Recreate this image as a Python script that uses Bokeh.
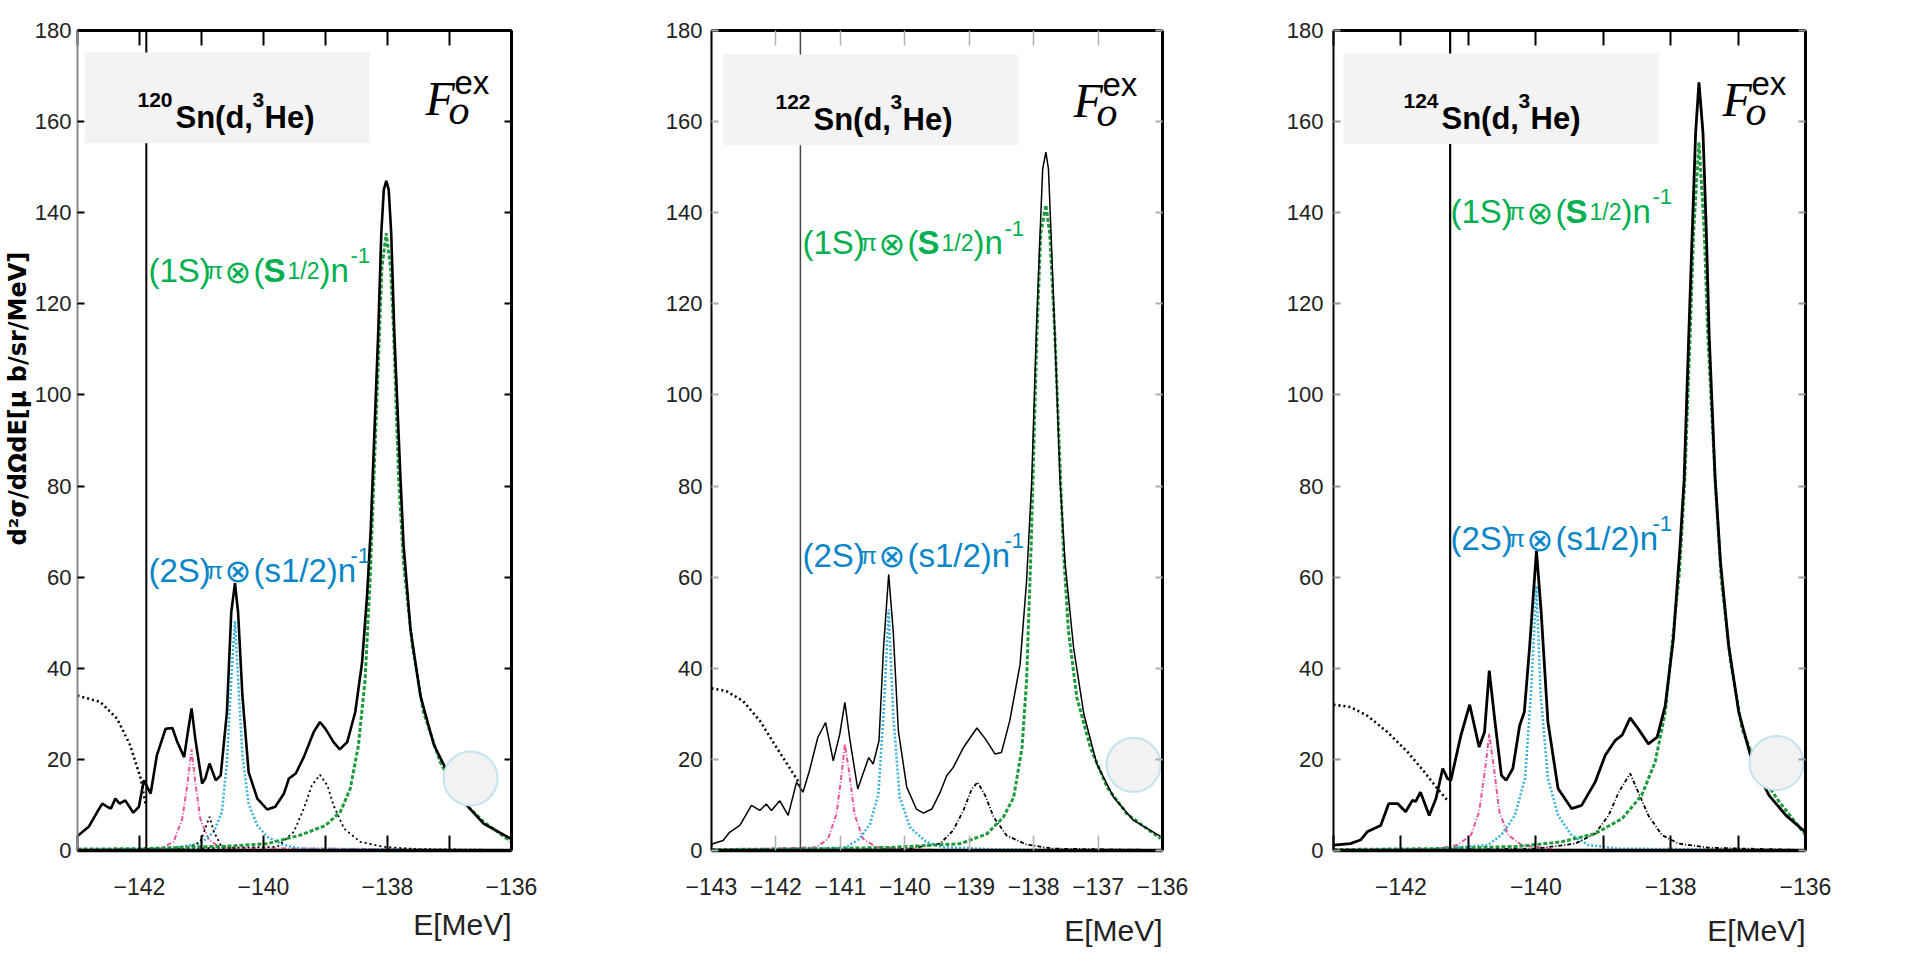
import math
from bokeh.plotting import figure
from bokeh.layouts import row
from bokeh.models import Range1d, FixedTicker, LinearAxis, Span, BoxAnnotation, Label, Title
from bokeh.embed import file_html
from bokeh.resources import INLINE

# ---------------- data ----------------
E_MIN, E_MAX = -143, -136
V_MIN, V_MAX = 0, 180
y_ticks = [0, 20, 40, 60, 80, 100, 120, 140, 160, 180]
targets = ["120", "122", "124"]
thresholds = [-141.89, -141.62, -141.27]
x_title = "E[MeV]"
y_title = "d²σ/dΩdE[μ b/sr/MeV]"

# 120Sn
sn120_total_E = [-143.00, -142.82, -142.68, -142.60, -142.52, -142.46, -142.39, -142.32, -142.23, -142.10,
                 -142.01, -141.93, -141.82, -141.72, -141.58, -141.47, -141.39, -141.28, -141.22, -141.16,
                 -141.10, -140.99, -140.94, -140.87, -140.77, -140.69, -140.59, -140.52, -140.46, -140.41,
                 -140.34, -140.24, -140.10, -139.94, -139.81, -139.67, -139.59, -139.48, -139.35, -139.19,
                 -139.09, -139.00, -138.87, -138.77, -138.65, -138.52, -138.41, -138.33, -138.27, -138.24,
                 -138.15, -138.10, -138.06, -138.02, -137.98, -137.94, -137.89, -137.79, -137.74, -137.63,
                 -137.47, -137.25, -136.98, -136.72, -136.45, -136.00]
sn120_total_v = [3.2, 5.2, 8.5, 10.3, 9.6, 9.2, 11.4, 10.3, 11.0, 8.3,
                 9.6, 15.4, 12.5, 20.9, 26.7, 26.9, 23.8, 20.5, 26.0, 31.2,
                 24.5, 14.7, 15.8, 19.1, 15.4, 16.5, 30.4, 52.3, 58.7, 52.3,
                 34.0, 17.2, 11.4, 9.0, 9.6, 12.5, 15.8, 16.9, 20.5, 26.0,
                 28.2, 26.7, 23.8, 22.2, 23.8, 30.4, 41.3, 55.9, 70.5, 81.5,
                 113.6, 135.5, 145.0, 147.0, 145.0, 135.5, 113.6, 81.5, 66.9, 48.6,
                 34.0, 23.1, 15.8, 9.9, 5.9, 2.5]
sn120_1s_E = [-143.0, -142.0, -141.0, -140.5, -139.94, -139.40, -139.00, -138.76, -138.60, -138.47,
              -138.36, -138.28, -138.22, -138.13, -138.09, -138.02, -137.95, -137.90, -137.82, -137.74,
              -137.60, -137.42, -137.15, -136.83, -136.45, -136.0]
sn120_1s_v = [0.3, 0.4, 0.8, 1.0, 1.5, 3.4, 5.5, 8.5, 13.6, 23.0,
              37.7, 59.6, 81.5, 113.6, 128.0, 135.5, 128.0, 113.6, 81.5, 63.0,
              45.0, 30.4, 19.4, 11.4, 6.3, 1.9]
sn120_2s_E = [-143.0, -141.55, -141.02, -140.80, -140.67, -140.59, -140.52, -140.46, -140.41, -140.34,
              -140.24, -140.10, -139.94, -139.67, -139.40, -136.0]
sn120_2s_v = [0.1, 0.4, 1.5, 4.1, 8.5, 19.4, 37.7, 50.4, 37.7, 20.9,
              10.3, 5.5, 3.0, 1.2, 0.4, 0.05]
sn120_p_E = [-143.0, -141.66, -141.45, -141.31, -141.23, -141.16, -141.10, -141.02, -140.88, -140.69, -136.0]
sn120_p_v = [0.05, 0.4, 1.9, 7.0, 14.3, 22.2, 15.0, 7.0, 2.3, 0.6, 0.0]
sn120_k1_E = [-141.3, -141.02, -140.94, -140.87, -140.80, -140.69, -140.4]
sn120_k1_v = [0.0, 1.9, 4.8, 7.4, 4.1, 1.2, 0.0]
sn120_k2_E = [-143.0, -139.78, -139.51, -139.35, -139.22, -139.09, -138.97, -138.87, -138.70, -138.44,
              -138.06, -137.52, -136.0]
sn120_k2_v = [0.0, 0.8, 4.1, 9.2, 14.3, 16.6, 14.3, 9.9, 4.8, 1.9,
              0.8, 0.3, 0.1]
sn120_bg_E = [-143.0, -142.63, -142.36, -142.15, -141.98, -141.90]
sn120_bg_v = [34.0, 32.6, 28.9, 23.1, 15.8, 10.0]

# 122Sn
sn122_total_E = [-143.00, -142.98, -142.82, -142.72, -142.56, -142.38, -142.25, -142.15, -142.07, -141.94,
                 -141.81, -141.68, -141.58, -141.48, -141.35, -141.23, -141.11, -141.01, -140.93, -140.85,
                 -140.73, -140.65, -140.56, -140.49, -140.40, -140.33, -140.25, -140.18, -140.10, -139.97,
                 -139.82, -139.71, -139.58, -139.45, -139.35, -139.25, -139.09, -138.88, -138.75, -138.60,
                 -138.50, -138.37, -138.21, -138.11, -138.03, -137.96, -137.90, -137.86, -137.81, -137.77,
                 -137.73, -137.67, -137.59, -137.51, -137.38, -137.22, -137.02, -136.76, -136.45, -136.03]
sn122_total_v = [1.0, 1.5, 2.2, 4.0, 5.5, 9.9, 8.8, 10.2, 8.8, 10.9,
                 7.7, 15.0, 12.8, 17.5, 24.8, 28.1, 19.7, 25.5, 32.5, 24.1,
                 13.5, 16.8, 20.4, 19.0, 24.1, 44.5, 60.6, 48.2, 26.3, 13.9,
                 9.1, 8.2, 9.1, 12.8, 16.4, 18.2, 22.6, 26.9, 24.5, 21.2,
                 21.5, 28.5, 40.9, 59.1, 81.0, 113.0, 135.5, 149.6, 153.3, 149.6,
                 135.5, 113.0, 81.0, 62.8, 44.5, 29.9, 19.0, 11.7, 6.6, 3.1]
sn122_1s_E = [-143.0, -141.22, -140.18, -139.14, -138.73, -138.47, -138.31, -138.18, -138.11, -138.04,
              -137.95, -137.89, -137.81, -137.75, -137.67, -137.54, -137.46, -137.33, -137.12, -136.86,
              -136.55, -136.03]
sn122_1s_v = [0.2, 0.4, 0.7, 1.5, 3.6, 7.3, 11.7, 22.6, 37.2, 66.4,
              113.0, 135.5, 141.7, 135.5, 113.0, 66.4, 48.2, 33.6, 22.6, 13.9,
              8.0, 2.6]
sn122_2s_E = [-143.0, -141.5, -140.91, -140.70, -140.54, -140.41, -140.33, -140.25, -140.18, -140.08,
              -139.92, -139.66, -139.40, -138.5, -136.0]
sn122_2s_v = [0.1, 0.3, 0.7, 2.6, 5.8, 12.4, 29.9, 52.9, 29.9, 11.7,
              5.1, 1.8, 0.7, 0.2, 0.05]
sn122_p_E = [-143.0, -141.37, -141.19, -141.06, -140.98, -140.93, -140.86, -140.78, -140.65, -140.44, -139.5, -136.0]
sn122_p_v = [0.05, 0.7, 2.6, 8.0, 16.8, 23.4, 16.8, 8.0, 2.6, 0.7, 0.1, 0.0]
sn122_k2_E = [-143.0, -140.0, -139.45, -139.25, -139.09, -138.96, -138.87, -138.75, -138.62, -138.42,
              -138.11, -137.69, -136.0]
sn122_k2_v = [0.0, 0.3, 1.5, 4.4, 8.8, 13.5, 15.0, 12.0, 7.3, 3.3,
              1.3, 0.4, 0.1]
sn122_bg_E = [-143.0, -142.77, -142.51, -142.25, -141.99, -141.79, -141.62]
sn122_bg_v = [35.6, 35.0, 32.8, 28.5, 22.6, 18.2, 14.4]

# 124Sn
sn124_total_E = [-143.00, -142.75, -142.60, -142.50, -142.30, -142.18, -142.05, -141.93, -141.83, -141.78,
                 -141.71, -141.58, -141.48, -141.38, -141.31, -141.26, -141.11, -140.98, -140.84, -140.76,
                 -140.69, -140.61, -140.51, -140.44, -140.34, -140.24, -140.17, -140.09, -139.99, -139.92,
                 -139.82, -139.67, -139.47, -139.32, -139.12, -138.97, -138.82, -138.72, -138.60, -138.48,
                 -138.33, -138.20, -138.08, -137.96, -137.86, -137.80, -137.73, -137.68, -137.63, -137.58,
                 -137.52, -137.47, -137.43, -137.34, -137.26, -137.14, -136.99, -136.79, -136.54, -136.29,
                 -136.00]
sn124_total_v = [1.2, 1.5, 2.3, 4.1, 5.5, 10.3, 10.3, 8.5, 11.0, 10.8,
                 12.8, 7.7, 11.4, 18.0, 15.8, 15.4, 25.3, 32.0, 22.7, 26.0,
                 39.5, 28.9, 16.5, 15.4, 18.0, 27.4, 30.4, 45.0, 65.8, 52.3,
                 28.2, 13.6, 9.2, 9.9, 15.0, 20.9, 24.2, 25.3, 29.1, 26.7,
                 23.4, 24.9, 31.8, 46.4, 66.9, 81.5, 113.6, 135.5, 157.4, 168.6,
                 157.4, 135.5, 113.6, 81.5, 63.2, 45.0, 30.4, 19.4, 12.1, 7.7,
                 4.0]
sn124_1s_E = [-143.0, -141.5, -140.26, -139.62, -139.12, -138.72, -138.43, -138.23, -138.08, -137.98,
              -137.87, -137.79, -137.71, -137.66, -137.58, -137.50, -137.45, -137.34, -137.25, -137.11,
              -136.94, -136.69, -136.39, -136.0]
sn124_1s_v = [0.2, 0.4, 0.9, 1.9, 3.7, 7.0, 12.1, 19.4, 30.4, 45.0,
              61.0, 81.5, 113.6, 135.5, 155.5, 135.5, 113.6, 81.5, 59.6, 41.3,
              26.7, 17.2, 10.7, 3.4]
sn124_2s_E = [-143.0, -141.5, -140.71, -140.51, -140.31, -140.16, -140.07, -139.99, -139.93, -139.82,
              -139.67, -139.47, -139.22, -138.77, -136.0]
sn124_2s_v = [0.1, 0.3, 1.2, 3.4, 7.7, 15.8, 34.7, 58.1, 34.7, 15.8,
              7.7, 3.4, 1.2, 0.4, 0.05]
sn124_p_E = [-143.0, -141.5, -141.16, -140.96, -140.84, -140.75, -140.69, -140.62, -140.54, -140.41,
             -140.21, -139.7, -136.0]
sn124_p_v = [0.05, 0.3, 1.2, 3.4, 8.5, 18.0, 25.6, 18.0, 8.5, 3.4,
             1.2, 0.2, 0.0]
sn124_k2_E = [-143.0, -140.0, -139.42, -139.12, -138.92, -138.77, -138.60, -138.48, -138.33, -138.13,
              -137.88, -137.43, -136.0]
sn124_k2_v = [0.0, 0.4, 1.5, 3.7, 7.7, 12.8, 16.9, 12.8, 7.7, 3.4,
              1.5, 0.6, 0.1]
sn124_bg_E = [-143.0, -142.75, -142.50, -142.20, -141.90, -141.65, -141.46, -141.31]
sn124_bg_v = [32.0, 31.5, 29.6, 26.0, 21.6, 17.2, 13.6, 11.0]

deco_E = [-136.66, -136.45, -136.43]
deco_v = [15.8, 18.8, 19.2]

# ---------------- layout / style ----------------
TICK_FONT = "Liberation Sans"
SANS = "Liberation Sans"
GREEN_TXT = "#00b050"
BLUE_TXT = "#0a86c8"
GREEN = "#1d9a3c"
CYAN = "#3ab2dc"
PINK = "#e8559c"

panels = [
    dict(x0=0, w=620, fx0=77, fx1=511, fy0=30, fy1=852,
         data=dict(total=(sn120_total_E, sn120_total_v), s1=(sn120_1s_E, sn120_1s_v),
                   s2=(sn120_2s_E, sn120_2s_v), p=(sn120_p_E, sn120_p_v),
                   k=[(sn120_k1_E, sn120_k1_v), (sn120_k2_E, sn120_k2_v)], bg=(sn120_bg_E, sn120_bg_v)),
         all_labels=False, tick_col="black", ytick_col="black", total_w=2.6, k_dash="2 3",
         vline_w=2, vline_col="black", left_col="#888888", ystand=6,
         box=(84, 369), title_x=137, F_x=425, lab_x=148, g_base=271, b_base=571, ylab=True,
         xl_standoff=16),
    dict(x0=620, w=640, fx0=711, fx1=1162, fy0=28, fy1=850,
         data=dict(total=(sn122_total_E, sn122_total_v), s1=(sn122_1s_E, sn122_1s_v),
                   s2=(sn122_2s_E, sn122_2s_v), p=(sn122_p_E, sn122_p_v),
                   k=[(sn122_k2_E, sn122_k2_v)], bg=(sn122_bg_E, sn122_bg_v)),
         all_labels=True, tick_col="#b0b0b0", ytick_col="#b0b0b0", total_w=1.5, k_dash="4 2 1 2",
         vline_w=1.5, vline_col="#444444", left_col="black", ystand=9,
         box=(723, 1018), title_x=775, F_x=1073, lab_x=802, g_base=241, b_base=554, ylab=False,
         xl_standoff=28),
    dict(x0=1260, w=665, fx0=1333, fx1=1805, fy0=29, fy1=852,
         data=dict(total=(sn124_total_E, sn124_total_v), s1=(sn124_1s_E, sn124_1s_v),
                   s2=(sn124_2s_E, sn124_2s_v), p=(sn124_p_E, sn124_p_v),
                   k=[(sn124_k2_E, sn124_k2_v)], bg=(sn124_bg_E, sn124_bg_v)),
         all_labels=False, tick_col="black", ytick_col="#999999", total_w=2.8, k_dash="4 2 1 2",
         vline_w=2.2, vline_col="black", left_col="black", ystand=10,
         box=(1343, 1658), title_x=1403, F_x=1722, lab_x=1450, g_base=211, b_base=539, ylab=False,
         xl_standoff=28),
]


def px2x(c, px):
    return E_MIN + (px - c["fx0"]) / (c["fx1"] - c["fx0"]) * (E_MAX - E_MIN)


def py2y(c, py):
    return V_MIN + (c["fy1"] - py) / (c["fy1"] - c["fy0"]) * (V_MAX - V_MIN)


def add_text(p, c, px, py, text, size, color="black", font=SANS, style="normal",
             align="left", baseline="alphabetic", angle=0.0):
    p.add_layout(Label(x=px2x(c, px), y=py2y(c, py), x_units="data", y_units="data",
                       text=text, text_font=font, text_font_size=f"{size}px",
                       text_font_style=style, text_color=color, text_align=align,
                       text_baseline=baseline, angle=angle))


def hide_labels(ax):
    ax.major_label_text_font_size = "1px"
    ax.major_label_text_color = None
    ax.major_label_text_alpha = 0
    ax.major_label_standoff = 0


figs = []
for i, c in enumerate(panels):
    p = figure(width=c["w"], height=964,
               x_range=Range1d(E_MIN, E_MAX), y_range=Range1d(V_MIN, V_MAX),
               output_backend="svg", toolbar_location=None,
               min_border_left=c["fx0"] - c["x0"], min_border_right=c["x0"] + c["w"] - c["fx1"],
               min_border_top=c["fy0"], min_border_bottom=964 - c["fy1"])
    p.grid.visible = False
    p.outline_line_color = None
    p.background_fill_color = "white"
    p.border_fill_color = "white"

    if c["all_labels"]:
        xt = FixedTicker(ticks=list(range(E_MIN, E_MAX + 1)), minor_ticks=[])
    else:
        xt = FixedTicker(ticks=[-142, -140, -138, -136], minor_ticks=[-143, -141, -139, -137])
    yt = FixedTicker(ticks=y_ticks, minor_ticks=[])

    top = LinearAxis(ticker=xt)
    right = LinearAxis(ticker=yt)
    p.add_layout(top, "above")
    p.add_layout(right, "right")

    for ax in p.xaxis:
        ax.ticker = xt
        ax.major_tick_in = 15
        ax.major_tick_out = 0
        ax.minor_tick_in = 15
        ax.minor_tick_out = 0
        ax.major_tick_line_color = c["tick_col"]
        ax.minor_tick_line_color = c["tick_col"]
        ax.major_tick_line_width = 2 if c["tick_col"] == "black" else 1.5
        ax.minor_tick_line_width = ax.major_tick_line_width
        ax.axis_line_color = "black"
        ax.major_label_text_font = TICK_FONT
        ax.major_label_text_font_size = "23px"
        ax.major_label_text_color = "#222222"
        ax.major_label_standoff = 27
    hide_labels(top)
    top.axis_line_width = 3
    p.below[0].axis_line_width = 3.5

    for ax in p.yaxis:
        ax.ticker = yt
        ax.major_tick_in = 7
        ax.major_tick_out = 0
        ax.minor_tick_in = 0
        ax.minor_tick_out = 0
        ax.major_tick_line_color = c["ytick_col"]
        ax.major_tick_line_width = 2
        ax.major_label_text_font = TICK_FONT
        ax.major_label_text_font_size = "22px"
        ax.major_label_text_color = "#222222"
        ax.major_label_standoff = c["ystand"]
    hide_labels(right)
    right.axis_line_width = 3
    right.axis_line_color = "black"
    p.left[0].axis_line_color = c["left_col"]
    p.left[0].axis_line_width = 2

    d = c["data"]
    # curves
    p.line(d["bg"][0], d["bg"][1], line_color="black", line_width=2.6, line_dash="2 3")
    p.line(d["p"][0], d["p"][1], line_color=PINK, line_width=2, line_dash="5 2 1 2")
    p.line(d["s2"][0], d["s2"][1], line_color=CYAN, line_width=2.6, line_dash="2 2")
    for kE, kv in d["k"]:
        p.line(kE, kv, line_color="black", line_width=1.8, line_dash=c["k_dash"])
    p.line(d["s1"][0], d["s1"][1], line_color=GREEN, line_width=3, line_dash="4 2")
    p.line(d["total"][0], d["total"][1], line_color="black", line_width=c["total_w"])

    # decoration circle
    p.scatter([deco_E[i]], [deco_v[i]], marker="circle", size=54,
              fill_color="#f2f2f2", line_color="#c4e2ef", line_width=2)

    # threshold line and title box
    p.add_layout(Span(location=thresholds[i], dimension="height",
                      line_color=c["vline_col"], line_width=c["vline_w"]))
    bx0, bx1 = c["box"]
    p.add_layout(BoxAnnotation(left=px2x(c, bx0), right=px2x(c, bx1),
                               bottom=py2y(c, 143), top=py2y(c, 52),
                               fill_color="#f3f3f3", fill_alpha=1.0, line_color=None))

    # title: ^AZ Sn(d,^3He)
    tx = c["title_x"]
    add_text(p, c, tx, 100, targets[i], 21, style="bold")
    add_text(p, c, tx + 38, 117, "Sn(d,", 31, style="bold")
    add_text(p, c, tx + 115, 100, "3", 21, style="bold")
    add_text(p, c, tx + 127, 117, "He)", 31, style="bold")

    # F_o^ex
    fx = c["F_x"]
    add_text(p, c, fx, 98, "F", 48, font="Liberation Serif", style="italic")
    add_text(p, c, fx + 23, 110, "o", 42, font="Liberation Serif", style="italic")
    add_text(p, c, fx + 29, 82, "ex", 33)

    # state labels
    lx = c["lab_x"]
    gb = c["g_base"]
    add_text(p, c, lx, gb, "(1S)", 33, color=GREEN_TXT)
    add_text(p, c, lx + 58, gb, "π", 24, color=GREEN_TXT)
    add_text(p, c, lx + 76, gb + 1, "⊗", 32, color=GREEN_TXT, font="DejaVu Sans")
    add_text(p, c, lx + 105, gb, "(", 33, color=GREEN_TXT)
    add_text(p, c, lx + 115, gb, "S", 33, color=GREEN_TXT, style="bold")
    add_text(p, c, lx + 139, gb, "1/2", 23, color=GREEN_TXT)
    add_text(p, c, lx + 171, gb, ")n", 33, color=GREEN_TXT)
    add_text(p, c, lx + 202, gb - 15, "-1", 22, color=GREEN_TXT)

    bb = c["b_base"]
    add_text(p, c, lx, bb, "(2S)", 33, color=BLUE_TXT)
    add_text(p, c, lx + 58, bb, "π", 24, color=BLUE_TXT)
    add_text(p, c, lx + 76, bb + 1, "⊗", 32, color=BLUE_TXT, font="DejaVu Sans")
    add_text(p, c, lx + 105, bb, "(s1/2)n", 33, color=BLUE_TXT)
    add_text(p, c, lx + 202, bb - 15, "-1", 22, color=BLUE_TXT)

    # x-axis title, right aligned under the axis
    p.add_layout(Title(text=x_title, align="right", text_font=TICK_FONT,
                       text_font_size="30px", text_font_style="normal",
                       text_color="#222222", standoff=c["xl_standoff"]), "below")

    if c["ylab"]:
        p.add_layout(Title(text=y_title, align="left", offset=305, text_font="DejaVu Sans",
                           text_font_size="24px", text_font_style="bold",
                           text_color="black", standoff=0), "left")

    figs.append(p)

layout = row(*figs, spacing=0)
open("out.html", "w").write(file_html(layout, INLINE))
